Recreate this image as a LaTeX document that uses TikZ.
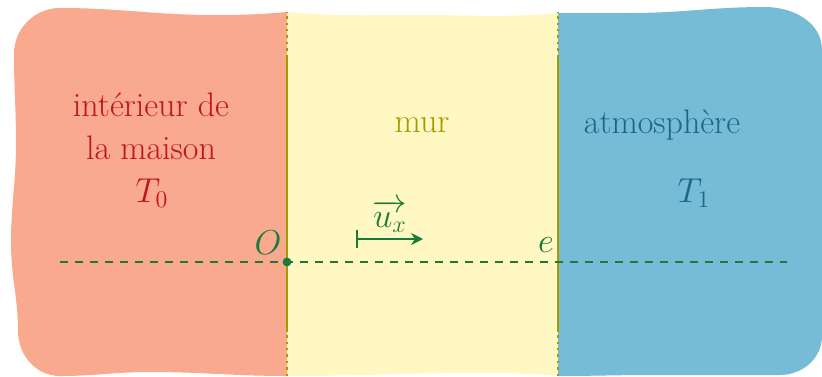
\documentclass[tikz,border=0pt]{standalone}
\usepackage{amsmath,amssymb}
\usepackage{tikz}
\usetikzlibrary{arrows.meta}

\definecolor{interieur}{HTML}{F8A98E}
\definecolor{murjaune}{HTML}{FFF8C2}
\definecolor{atmo}{HTML}{77BCD6}
\definecolor{rougetxt}{HTML}{C0141C}
\definecolor{olivetxt}{HTML}{A39B00}
\definecolor{bleutxt}{HTML}{17688A}
\definecolor{vertaxe}{HTML}{1A7A3C}

\begin{document}
\begin{tikzpicture}[x=0.5pt,y=0.5pt,>=Stealth,
  lbl/.style={font=\fontsize{17}{21.5}\selectfont, align=center, inner sep=0pt},
  paroi/.style={olivetxt, line width=1.1pt},
  paroipt/.style={olivetxt, line width=1.2pt, dash pattern=on 1.2pt off 2pt},
  axe/.style={vertaxe, line width=0.9pt, dash pattern=on 4pt off 3.5pt}]
  \useasboundingbox (0,0) rectangle (822,376);
  % ---- mur ----
  \fill[murjaune] (287,364) to[out=-5,in=180] (420,361) to[out=0,in=185] (558,363)
    -- (558,0) to[out=175,in=0] (480,3) to[out=180,in=0] (287,0) -- cycle;
  % ---- interieur de la maison ----
  \fill[interieur] (287,364) to[out=185,in=0] (215,361) to[out=180,in=0] (60,368)
    to[out=180,in=90] (14,322) to[out=-90,in=90] (16,233) to[out=-90,in=90] (11,133)
    to[out=-90,in=90] (18,45) to[out=-90,in=180] (60,0) to[out=0,in=180] (150,4)
    to[out=0,in=180] (287,0) -- cycle;
  % ---- atmosphere ----
  \fill[atmo] (558,363) to[out=0,in=180] (630,363) to[out=0,in=180] (765,369)
    to[out=0,in=90] (822,326) -- (822,40) to[out=-90,in=0] (780,1)
    to[out=180,in=0] (653,1) to[out=180,in=0] (558,0) -- cycle;
  % ---- parois ----
  \foreach \xp in {287,558} {
    \draw[paroi] (\xp,45) -- (\xp,319);
    \draw[paroipt] (\xp,0) -- (\xp,45);
    \draw[paroipt] (\xp,319) -- (\xp,364);
  }
  % ---- textes ----
  \node[lbl, text=rougetxt] (maison) at (151,250) {intérieur de\\la maison};
  \node[lbl, text=rougetxt] (T0) at (152,183) {$T_0$};
  \node[lbl, text=olivetxt] (mur) at (422,251) {mur};
  \node[lbl, text=bleutxt] (atm) at (662,251) {atmosphère};
  \node[lbl, text=bleutxt] (T1) at (694,183) {$T_1$};
  % ---- axe ----
  \coordinate (axeg) at (60,114);
  \coordinate (axed) at (787,114);
  \draw[axe] (axeg) -- (axed);
  \fill[vertaxe] (287,114) circle (2.2pt) node (O) {};
  \node[lbl, text=vertaxe] (Olbl) at (268,133) {$O$};
  \node[lbl, text=vertaxe] (elbl) at (546,131) {$e$};
  \coordinate (ux0) at (356,137);
  \coordinate (ux1) at (423,137);
  \draw[vertaxe, line width=0.9pt, {Bar[width=9pt]}-{Stealth[length=6pt,width=6pt]}] (ux0) -- (ux1);
  \node[lbl, text=vertaxe] (uxlbl) at (390,160) {$\overrightarrow{u_x}$};
\end{tikzpicture}
\end{document}
